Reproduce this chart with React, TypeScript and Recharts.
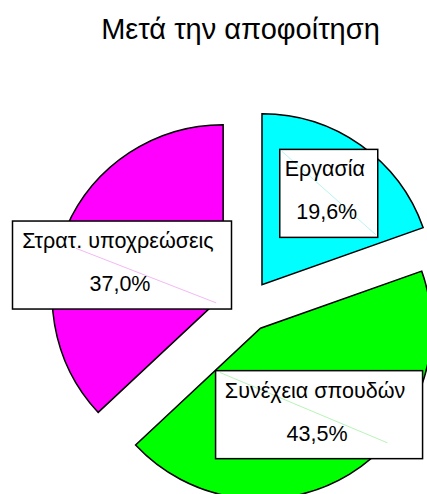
import React from 'react';
import { PieChart, Pie, Cell } from 'recharts';

// ---- data ----
const categories: string[] = ['Εργασία', 'Συνέχεια σπουδών', 'Στρατ. υποχρεώσεις'];
const shares: number[] = [19.6, 43.5, 37.0];
const chartTitle = 'Μετά την αποφοίτηση';

// ---- styles / layout ----
const colors = ['#00FFFF', '#00FF00', '#FF00FF'];
const leaderColors = ['#b8f4f4', '#b8f4b8', '#f4b8f4'];
const W = 427;
const H = 494;
const CX = 247;
const CY = 306;
const R = 171;
const EXPLODE = 26;
const START = 90;
const END = -270;
const LABEL_DIST = 107;
const boxW = [98, 207, 219];
const BOX_H = 88;
const nudges: [number, number][] = [
  [5, -4],
  [3, -5],
  [-3, 12],
];
// faint leader lines inside the boxes, relative to the box (0..1)
const leaders: [number, number, number, number][] = [
  [0.02, 0.02, 0.98, 0.97],
  [0.02, 0.02, 0.83, 0.82],
  [0.29, 0.31, 0.93, 0.93],
];
const FONT = '"Liberation Sans", Arial, sans-serif';

const data = categories.map((name, i) => ({ name, value: shares[i] }));
const total = shares.reduce((a, b) => a + b, 0);
const mids: number[] = [];
{
  let cum = 0;
  shares.forEach((v) => {
    mids.push(START - ((cum + v / 2) / total) * (START - END));
    cum += v;
  });
}
const rad = (d: number) => (d * Math.PI) / 180;
const apex = mids.map((m) => ({
  x: CX + EXPLODE * Math.cos(rad(m)),
  y: CY - EXPLODE * Math.sin(rad(m)),
}));

const fmt = (v: number) => v.toFixed(1).replace('.', ',') + '%';

const makeLabel = (slice: number) => (props: any) => {
  if (props.index !== slice) return null;
  const mid = typeof props.midAngle === 'number' ? props.midAngle : mids[slice];
  const cx = typeof props.cx === 'number' ? props.cx : apex[slice].x;
  const cy = typeof props.cy === 'number' ? props.cy : apex[slice].y;
  const bx = cx + LABEL_DIST * Math.cos(rad(mid)) + nudges[slice][0];
  const by = cy - LABEL_DIST * Math.sin(rad(mid)) + nudges[slice][1];
  const w = boxW[slice];
  const x0 = bx - w / 2;
  const y0 = by - BOX_H / 2;
  const l = leaders[slice];
  return (
    <g key={`lbl-${slice}`}>
      <rect x={x0} y={y0} width={w} height={BOX_H} fill="#ffffff" stroke="#000" strokeWidth={1.5} />
      <line
        x1={x0 + l[0] * w}
        y1={y0 + l[1] * BOX_H}
        x2={x0 + l[2] * w}
        y2={y0 + l[3] * BOX_H}
        stroke={leaderColors[slice]}
        strokeWidth={1}
      />
      <text x={bx - 4} y={by - 24} textAnchor="middle" dominantBaseline="central" fontFamily={FONT} fontSize={21.5} fill="#000">
        {props.name}
      </text>
      <text x={bx - 2} y={by + 19} textAnchor="middle" dominantBaseline="central" fontFamily={FONT} fontSize={21.5} fill="#000">
        {fmt(props.value)}
      </text>
    </g>
  );
};

export default function App() {
  return (
    <div style={{ position: 'absolute', left: 0, top: 0, width: W, height: H, background: '#fff', overflow: 'hidden' }}>
      <div
        style={{
          position: 'absolute',
          left: 0,
          top: 15,
          width: 481,
          textAlign: 'center',
          fontFamily: FONT,
          fontSize: 29,
          lineHeight: '29px',
          color: '#000',
          whiteSpace: 'nowrap',
        }}
      >
        {chartTitle}
      </div>
      <PieChart
        width={W}
        height={H}
        margin={{ top: 0, right: 0, bottom: 0, left: 0 }}
        style={{ position: 'absolute', left: 0, top: 0 }}
      >
        {categories.map((_, s) => (
          <Pie
            key={s}
            data={data}
            dataKey="value"
            nameKey="name"
            cx={apex[s].x}
            cy={apex[s].y}
            outerRadius={R}
            startAngle={START}
            endAngle={END}
            isAnimationActive={false}
            labelLine={false}
            label={makeLabel(s)}
          >
            {data.map((_, i) => (
              <Cell
                key={i}
                fill={i === s ? colors[i] : 'none'}
                stroke={i === s ? '#000' : 'none'}
                strokeWidth={1.5}
              />
            ))}
          </Pie>
        ))}
      </PieChart>
    </div>
  );
}
